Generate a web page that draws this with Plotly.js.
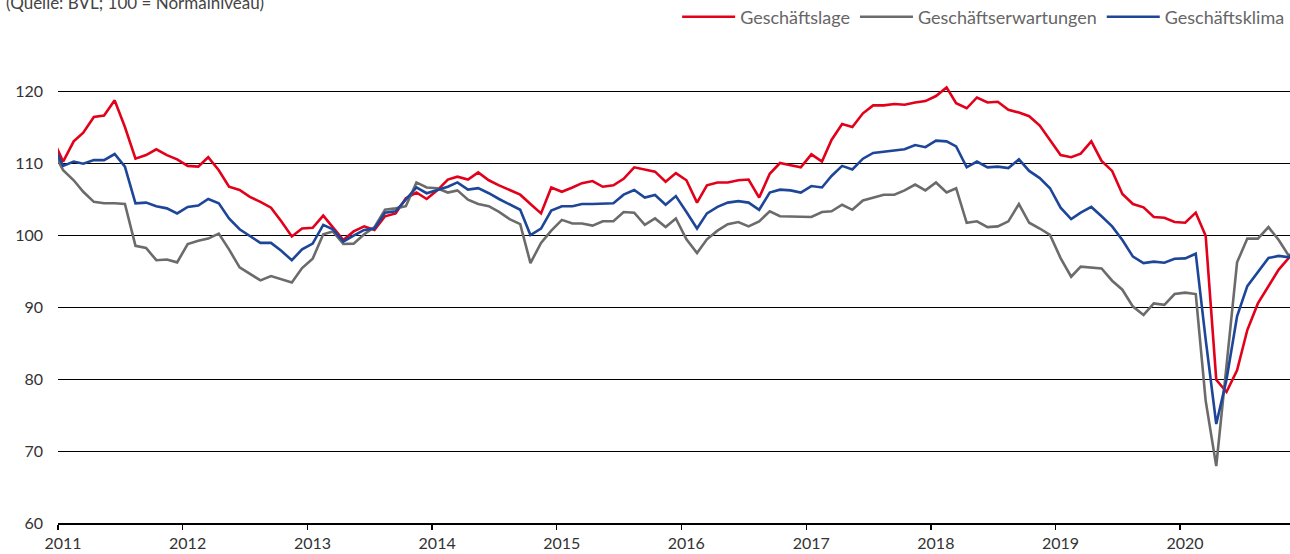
<!DOCTYPE html>
<html><head><meta charset="utf-8">
<script src="https://cdn.plot.ly/plotly-3.0.1.min.js"></script>
<style>html,body{margin:0;padding:0;overflow:hidden;background:#fff}#chart{width:1310px;height:554px}</style>
</head><body><div id="chart"></div>
<script>
// Monthly series, first value = Dec 2010, last = Dec 2020
const firstYear = 2010, firstMonth = 12;
const geschaeftslage = [
113.4,
110.2,113.0,114.2,116.4,116.6,118.7,115.0,110.6,111.1,111.9,111.1,110.5,
109.6,109.5,110.8,109.0,106.7,106.25,105.3,104.6,103.8,101.9,99.8,100.9,
101.0,102.7,101.15,99.3,100.5,101.2,100.7,102.6,103.0,105.1,105.9,105.0,
106.2,107.7,108.1,107.7,108.7,107.6,106.9,106.3,105.6,104.3,103.0,106.6,
106.0,106.6,107.2,107.5,106.7,106.9,107.8,109.4,109.1,108.8,107.4,108.6,
107.6,104.5,106.9,107.3,107.3,107.6,107.7,105.2,108.5,110.0,109.7,109.4,
111.2,110.2,113.2,115.4,115.0,116.9,118.0,118.0,118.2,118.1,118.4,118.6,
119.3,120.5,118.3,117.6,119.1,118.4,118.5,117.4,117.0,116.5,115.2,113.1,
111.1,110.8,111.3,113.0,110.3,108.9,105.7,104.3,103.85,102.5,102.4,101.8,
101.7,103.1,99.9,79.9,78.2,81.2,86.8,90.5,92.8,95.2,96.9,98.4
];
const geschaeftserwartungen = [
111.8,
109.0,107.6,106.0,104.6,104.4,104.4,104.3,98.5,98.2,96.5,96.6,96.2,
98.75,99.2,99.5,100.2,98.0,95.5,94.6,93.7,94.3,93.85,93.4,95.4,
96.7,100.1,100.5,98.75,98.8,100.1,101.1,103.5,103.7,104.0,107.3,106.6,
106.5,105.9,106.2,104.9,104.3,104.0,103.2,102.2,101.5,96.1,98.9,100.6,
102.1,101.6,101.6,101.3,101.9,101.9,103.2,103.1,101.4,102.3,101.1,102.3,
99.4,97.5,99.4,100.6,101.5,101.8,101.2,101.9,103.3,102.6,102.6,102.6,
102.5,103.2,103.3,104.2,103.5,104.8,105.2,105.6,105.6,106.2,107.0,106.2,
107.3,105.9,106.5,101.7,101.9,101.1,101.2,101.9,104.3,101.7,100.9,100.0,
96.8,94.2,95.6,95.5,95.35,93.65,92.4,90.05,88.9,90.5,90.3,91.8,
92.0,91.8,77.0,67.9,82.0,96.2,99.5,99.5,101.1,99.3,97.0,99.0
];
const geschaeftsklima = [
112.6,
109.6,110.2,109.9,110.4,110.4,111.25,109.5,104.4,104.5,104.0,103.7,103.0,
103.9,104.1,105.0,104.4,102.3,100.8,99.9,98.9,98.9,97.8,96.5,98.0,
98.8,101.4,100.8,99.1,99.9,100.7,100.9,103.1,103.3,104.9,106.6,105.8,
106.3,106.7,107.3,106.3,106.5,105.8,105.0,104.2,103.5,100.0,100.9,103.4,
104.0,104.0,104.3,104.3,104.3,104.4,105.6,106.25,105.2,105.55,104.2,105.4,
103.2,100.9,103.0,103.9,104.5,104.7,104.5,103.5,105.9,106.3,106.2,105.9,
106.8,106.6,108.2,109.6,109.1,110.6,111.4,111.6,111.7,111.9,112.5,112.2,
113.1,113.0,112.3,109.4,110.2,109.4,109.5,109.3,110.5,108.9,107.9,106.5,
103.8,102.2,103.1,103.9,102.6,101.2,99.3,97.0,96.1,96.3,96.15,96.7,
96.75,97.4,85.5,73.75,79.9,88.7,92.9,94.8,96.8,97.1,96.9,99.8
];
const seriesNames = ['Geschäftslage','Geschäftserwartungen','Geschäftsklima'];
const seriesColors = ['#e2001a','#6b6b6b','#1d4698'];
const yearLabels = ['2011','2012','2013','2014','2015','2016','2017','2018','2019','2020'];
const yTicks = [60,70,80,90,100,110,120];

function monthDates(n){
  const out=[];
  for(let i=0;i<n;i++){
    const idx=(firstMonth-1)+i;
    const y=firstYear+Math.floor(idx/12), m=idx%12+1;
    out.push(y+'-'+String(m).padStart(2,'0')+'-16');
  }
  return out;
}
const dates = monthDates(geschaeftslage.length);
const allSeries = [geschaeftslage, geschaeftserwartungen, geschaeftsklima];
const traces = allSeries.map((vals,i)=>({
  type:'scatter', mode:'lines', x:dates, y:vals, name:seriesNames[i],
  line:{color:seriesColors[i], width:2.6}, hoverinfo:'skip'
}));

const FONT = 'Lato, "Open Sans", sans-serif';
const layout = {
  width:1310, height:554,
  margin:{l:58, r:5, t:55, b:31, autoexpand:false},
  paper_bgcolor:'#fff', plot_bgcolor:'#fff',
  font:{family:FONT, color:'#333'},
  showlegend:true,
  legend:{orientation:'h', x:0.4965, xanchor:'left', y:1.0812, yanchor:'middle',
          font:{family:FONT, size:18, color:'#666'}, itemwidth:53, bgcolor:'rgba(0,0,0,0)',
          traceorder:'normal'},
  xaxis:{type:'date', range:['2011-01-01','2021-01-01'],
         tickvals:yearLabels.map(y=>y+'-01-01'), ticktext:yearLabels,
         ticks:'outside', ticklen:5, tickwidth:1.5, tickcolor:'#000',
         showline:true, linecolor:'#000', linewidth:1.5, showgrid:false, zeroline:false,
         ticklabelshift:5, tickfont:{family:FONT, size:16, color:'#333'}},
  yaxis:{range:[60,125], tickvals:yTicks, ticktext:yTicks.map(String),
         showgrid:true, gridcolor:'#000', gridwidth:1, zeroline:false, showline:false,
         ticks:'', ticklabelstandoff:14, tickfont:{family:FONT, size:16, color:'#333'}},
  annotations:[{text:'(Quelle: BVL; 100 = Normalniveau)', xref:'paper', yref:'paper',
    x:-0.0433, xanchor:'left', y:1.1132, yanchor:'middle', showarrow:false,
    font:{family:FONT, size:17, color:'#444'}}]
};
Plotly.newPlot('chart', traces, layout, {staticPlot:true, displayModeBar:false});
</script></body></html>
